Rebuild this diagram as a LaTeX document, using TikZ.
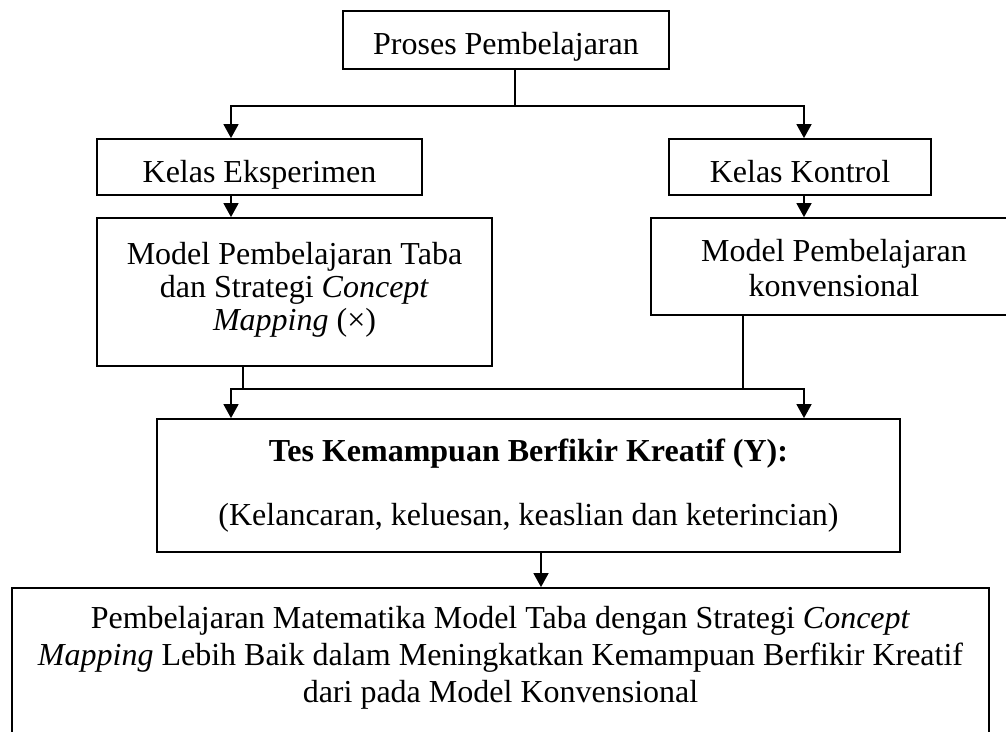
\documentclass[tikz,border=0pt]{standalone}
\usepackage{fontspec}
\setmainfont{Liberation Serif}
\usetikzlibrary{arrows.meta}
\newcommand{\bxt}[5]{\begin{minipage}[c][#2][t]{#1}\centering\fontsize{32pt}{#4}\selectfont\vspace*{#3}#5\end{minipage}}
\begin{document}
\begin{tikzpicture}[x=1pt,y=-1pt,
  bx/.style={draw,line width=1.8pt,inner sep=0pt},
  ln/.style={line width=1.6pt},
  arr/.style={-{Triangle[length=14pt,width=15pt]}},
  arrs/.style={{Triangle[length=14pt,width=15pt]}-{Triangle[length=14pt,width=15pt]}}]
\useasboundingbox (0,0) rectangle (1006,731);
\fill[white] (0,0) rectangle (1006,731);
\clip (0,0) rectangle (1006,731);
% boxes
\node[bx] (proses) at (506,40) {\bxt{326pt}{58pt}{21pt}{37pt}{Proses Pembelajaran}};
\node[bx] (ke) at (259.5,167) {\bxt{325pt}{56pt}{21pt}{37pt}{Kelas Eksperimen}};
\node[bx] (kk) at (800,167) {\bxt{262pt}{56pt}{21pt}{37pt}{Kelas Kontrol}};
\node[bx] (mt) at (294.5,292) {\bxt{395pt}{148pt}{24pt}{33pt}{Model Pembelajaran Taba\\dan Strategi \textit{Concept}\\\textit{Mapping} (×)}};
\node[bx] (mk) at (834,266.5) {\bxt{366pt}{97pt}{21pt}{35pt}{Model Pembelajaran\\konvensional}};
\node[bx] (tes) at (528.5,485.5) {\bxt{743pt}{133pt}{20pt}{64pt}{\textbf{Tes Kemampuan Berfikir Kreatif (Y):}\\(Kelancaran, keluesan, keaslian dan keterincian)}};
\node[bx] (concl) at (500.5,674) {\bxt{977pt}{172pt}{18pt}{37pt}{Pembelajaran Matematika Model Taba dengan Strategi \textit{Concept}\\\textit{Mapping} Lebih Baik dalam Meningkatkan Kemampuan Berfikir Kreatif\\dari pada Model Konvensional}};
% helper coordinates
\coordinate (split) at (515,106);
\coordinate (bar) at (0,389);
\coordinate (xl) at (231,0);
\coordinate (xr) at (804,0);
\coordinate (xa) at (243,0);
\coordinate (xb) at (743,0);
\coordinate (xc) at (541,0);
% connectors
\draw[ln] (proses.south -| split) -- (split);
\draw[ln,arrs] (xl |- ke.north) |- (split) -| (xr |- kk.north);
\draw[ln,arr] (xl |- ke.south) -- (xl |- mt.north);
\draw[ln,arr] (xr |- kk.south) -- (xr |- mk.north);
\draw[ln] (xa |- mt.south) -- (xa |- bar);
\draw[ln] (xb |- mk.south) -- (xb |- bar);
\draw[ln,arrs] (xl |- tes.north) |- (bar -| xr) -- (xr |- tes.north);
\draw[ln,arr] (xc |- tes.south) -- (xc |- concl.north);
\end{tikzpicture}
\end{document}
